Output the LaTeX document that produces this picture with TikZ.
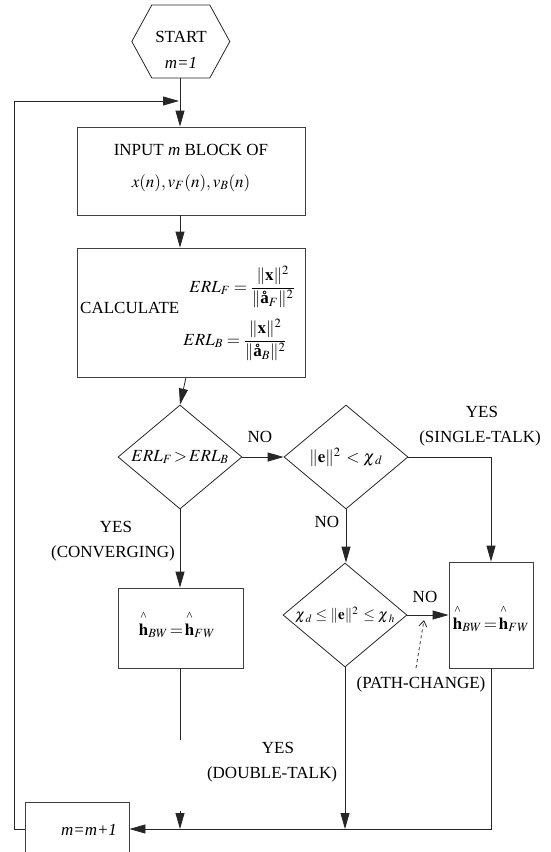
\documentclass[tikz,border=0pt]{standalone}
\usepackage{amsmath}
\usepackage{mathptmx}
\usepackage[no-math]{fontspec}
\setmainfont{Liberation Serif}
\usetikzlibrary{arrows.meta,shapes.geometric,calc}
\newcommand{\hh}{\overset{\text{\^{}}}{\mathbf{h}}}
\newcommand{\chisub}[1]{\chi_{\mkern3mu #1}}
\begin{document}
\begin{tikzpicture}[x=1pt,y=-1pt,
  ln/.style={line width=0.8pt, draw=black!85},
  arr/.style={ln,-{Triangle[length=16pt,width=9pt]}},
  box/.style={draw=black!75,line width=0.8pt,rectangle,inner sep=0pt},
  dia/.style={draw=black!85,line width=0.8pt,diamond,inner sep=0pt,minimum width=124pt,minimum height=104pt},
  lab/.style={inner sep=0pt},
  every node/.append style={font=\fontsize{17}{20}\selectfont}]
\useasboundingbox (0,0) rectangle (550,852);

% start hexagon
\node[minimum width=98pt,minimum height=73pt,inner sep=0pt] (start) at (181,41.5) {};
\draw[ln] (start.west) -- ++(20,-36.5) -- ++(58,0) -- ++(20,36.5) -- ++(-20,36.5) -- ++(-58,0) -- cycle;
\node[lab] (tstart) at (181,37) {START};
\node[lab] (tm) at (181,63) {\itshape m=1};

% input box
\node[box,minimum width=228pt,minimum height=88pt] (input) at (191,171) {};
\node[lab] (tin1) at (191,150) {INPUT \textit{m} BLOCK OF};
\node[lab] (tin2) at (191,183) {$x(n), v_F(n), v_B(n)$};

% calculate box
\node[box,minimum width=228pt,minimum height=129pt] (calc) at (191,312.5) {};
\node[lab,anchor=west] (tcalc) at (80,308) {CALCULATE};
\node[lab] (ferlf) at (242,287) {$ERL_F=\dfrac{\|\mathbf{x}\|^2}{\|\mbox{\bfseries å}_{F}\|^2}$};
\node[lab] (ferlb) at (235,340) {$ERL_B=\dfrac{\|\mathbf{x}\|^2}{\|\mbox{\bfseries å}_{B}\|^2}$};

% decisions
\node[dia,label={center:$\|\mathbf{e}\|^2\,<\chisub{d}$}] (d2) at (346,457) {};
\node[dia,label={center:$ERL_F\!>\!ERL_B$}] (d1) at (180,457) {};
\node[dia,label={[font=\fontsize{15}{18}\selectfont]center:$\chisub{d}\le\|\mathbf{e}\|^2\,\le\chisub{h}$}] (d3) at (345,615) {};

% boxes
\node[box,minimum width=125pt,minimum height=80pt] (b2) at (180.5,628) {};
\node[lab] (tb2) at (177,624) {$\hh_{BW}\!=\!\hh_{FW}$};
\node[box,minimum width=84pt,minimum height=106pt] (b3) at (491,615) {};
\node[lab] (tb3) at (491,618) {$\hh_{BW}\!=\!\hh_{FW}$};
\node[box,minimum width=104pt,minimum height=80pt] (inc) at (77,842) {};
\node[lab] (tinc) at (89,830) {\itshape m=m+1};

% labels
\node[lab] (no1) at (260,437) {NO};
\node[lab] (yes1) at (482,412) {YES};
\node[lab] (st) at (480,438) {(SINGLE-TALK)};
\node[lab] (yes2) at (116,527) {YES};
\node[lab] (conv) at (113,553) {(CONVERGING)};
\node[lab] (no2) at (327,522) {NO};
\node[lab] (no3) at (425,597) {NO};
\node[lab] (pc) at (421,684) {(PATH-CHANGE)};
\node[lab] (yes3) at (278,748) {YES};
\node[lab] (dt) at (272,774) {(DOUBLE-TALK)};

% coordinates
\coordinate (loopend) at (179,101);
\coordinate (yl) at (0,829);
\coordinate (dangle) at (180,740);
\coordinate (stubtop) at (180,811);
\coordinate (pctip) at (424,620);
\coordinate (pcfoot) at (416,668);

% connectors
\draw[arr] (start.south -| 180,0) -- (input.north -| 180,0);
\draw[arr] (input.south -| 180,0) -- (calc.north -| 180,0);
\draw[arr] (calc.south -| 186,0) -- (d1.north);
\draw[arr] (d1.east) -- (d2.west);
\draw[arr] (d2.east) -| (b3.north);
\draw[arr] (d1.south) -- (b2.north -| d1.south);
\draw[ln] (b2.south -| d1.south) -- (dangle);
\draw[arr] (stubtop) -- (stubtop |- yl);
\draw[arr] (d2.south) -- (d3.north -| d2.south);
\draw[arr] (d3.east) -- (b3.west);
\draw[arr] (d3.south) -- (d3.south |- yl);
\draw[arr] (b3.south) -- (b3.south |- yl) -- (inc.east |- yl);
\draw[arr] (inc.west |- yl) -- ++(-10,0) |- (loopend);
\draw[ln,dashed,-{Straight Barb[length=6pt,width=8pt]}] (pcfoot) -- (pctip);
\end{tikzpicture}
\end{document}
